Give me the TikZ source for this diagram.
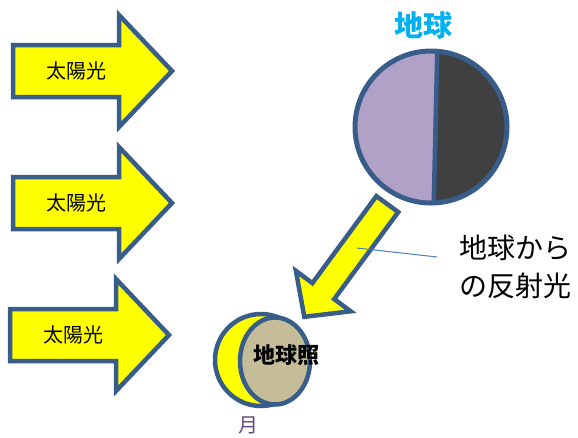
\documentclass[tikz,border=0pt]{standalone}
\usepackage{fontspec}
\usepackage{xcolor}
\usepackage{tikz}
\newfontfamily\jp{Noto Sans CJK JP}
\definecolor{rim}{HTML}{385D8A}
\definecolor{sunfill}{HTML}{FFFF00}
\definecolor{dayside}{HTML}{B2A1C7}
\definecolor{nightside}{HTML}{404040}
\definecolor{glow}{HTML}{C4BD97}
\definecolor{earthname}{HTML}{00B0F0}
\definecolor{moonname}{HTML}{604A7B}
\definecolor{leader}{HTML}{4A7EBB}
\newcommand{\fs}[1]{\fontsize{#1}{#1}\selectfont}
\def\width{578}
\def\hauteur{437}

\begin{document}
\begin{tikzpicture}[x=1pt, y=-1pt, line join=miter]
	\useasboundingbox (0,0) rectangle (\width,\hauteur);
	%\draw[step=10, line width=0.1pt, black!20!white] (0,0) grid (\width,\hauteur);
	% sunlight arrows
	\foreach \y/\dx in {71/0, 203/0, 335/-3}{
		\draw[line width=4.5pt, color=rim, fill=sunfill]
			(13+\dx,\y-26) -- (119+\dx,\y-26) -- (119+\dx,\y-56) -- (172+\dx,\y)
			-- (119+\dx,\y+56) -- (119+\dx,\y+26) -- (13+\dx,\y+26) -- cycle;
		\node[font=\jp\fs{20}] (sun\y) at (76+\dx,\y){太陽光};
	}
	% light reflected by the earth
	\draw[line width=4.5pt, color=rim, fill=sunfill]
		(376.4,196.1) -- (398.2,212.1) -- (334.2,299.1) -- (350.7,311.3)
		-- (304.3,316.8) -- (295.9,270.9) -- (312.4,283.1) -- cycle;
	% earth
	\coordinate (earth) at (431,127);
	\fill[color=dayside] (earth) circle (76);
	\begin{scope}
		\clip (earth) circle (76);
		\fill[color=nightside] (437.4,45) -- (520,45) -- (520,210) -- (433.6,210) -- cycle;
		\draw[line width=4.5pt, color=rim] (437.4,45) -- (433.6,210);
	\end{scope}
	\draw[line width=5pt, color=rim] (earth) circle (76);
	\node[font=\jp\bfseries\fs{29}, color=earthname] (earthlabel) at (423,25){地球};
	% moon
	\draw[line width=4.5pt, color=rim, fill=sunfill] (261,360) circle (46);
	\draw[line width=4.5pt, color=rim, fill=glow] (275,361) ellipse (35 and 43.5);
	\node[font=\jp\bfseries\fs{22}] (shine) at (286,355){地球照};
	\node[font=\jp\fs{20}, color=moonname] (moon) at (248,425){月};
	% callout
	\node[font=\jp\fs{28}, anchor=west, align=left, inner sep=0pt] (refl) at (459,267){地球から\\[10pt]の反射光};
	\coordinate (callpt) at (357,248);
	\coordinate (callend) at (437,257);
	\draw[line width=1pt, color=leader] (callpt) -- (callend);
\end{tikzpicture}
\end{document}
